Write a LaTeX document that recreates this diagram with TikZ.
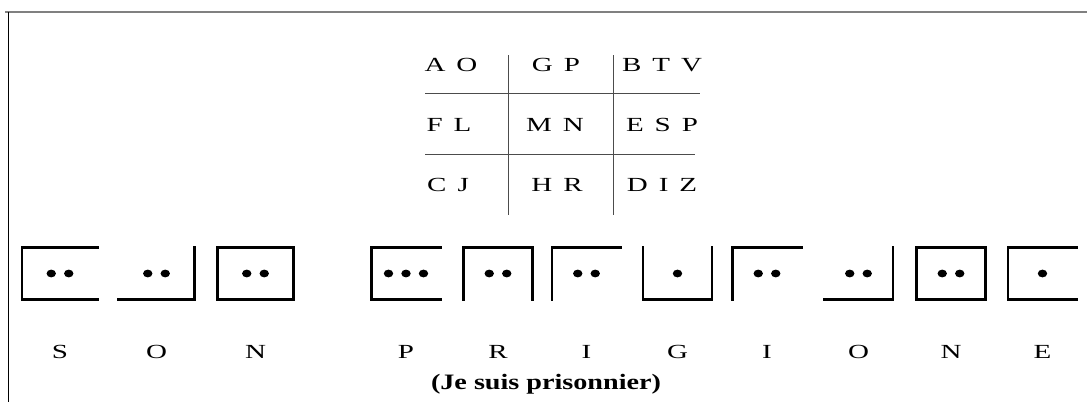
\documentclass[tikz,border=0pt]{standalone}
\usepackage{fontspec}
\setmainfont{Liberation Serif}[FakeStretch=1.45]
\newfontfamily\glossfont{Liberation Serif}[FakeStretch=1.28]
\usetikzlibrary{positioning}
\newcommand{\cg}{\hspace{11pt}}

\begin{document}
\begin{tikzpicture}[x=1pt,y=-1pt,
  every node/.style={inner sep=0pt,outer sep=0pt,font=\fontsize{20}{20}\selectfont},
  glyph/.style={minimum width=69pt,minimum height=52pt},
  wide/.style={minimum width=76pt},
  side/.style={line width=2.4pt,line cap=rect},
  rule/.style={line width=0.9pt,black!70}]

  \useasboundingbox (0,0) rectangle (1087,402);

  % Page frame
  \draw[line width=1.6pt,gray] (5,12) -- (1087,12);
  \draw[line width=1.3pt] (8.5,12) -- (8.5,402);

  % Key grid
  \draw[rule] (508,55) -- (508,215);
  \draw[rule] (613,55) -- (613,215);
  \draw[rule] (425,93) -- (700,93);
  \draw[rule] (425,154) -- (695,154);
  \node (ao)  at (451,65)  {A\cg O};
  \node (gp)  at (556,65)  {G\cg P};
  \node (btv) at (662,65)  {B\cg T\cg V};
  \node (fl)  at (449,125) {F\cg L};
  \node (mn)  at (555,125) {M\cg N};
  \node (esp) at (662,125) {E\cg S\cg P};
  \node (cj)  at (448,185) {C\cg J};
  \node (hr)  at (557,185) {H\cg R};
  \node (diz) at (662,185) {D\cg I\cg Z};

  % Cipher glyphs
  \node[glyph,wide] (c1)  at (60,273.5)    {};
  \node[glyph,wide] (c2)  at (156.5,273.5) {};
  \node[glyph,wide] (c3)  at (255.5,273.5) {};
  \node[glyph] (c4)  at (406,273.5)    {};
  \node[glyph] (c5)  at (498,273.5)    {};
  \node[glyph] (c6)  at (586.5,273.5)  {};
  \node[glyph] (c7)  at (677.5,273.5)  {};
  \node[glyph] (c8)  at (767,273.5)    {};
  \node[glyph] (c9)  at (858.5,273.5)  {};
  \node[glyph] (c10) at (951,273.5)    {};
  \node[glyph] (c11) at (1042.5,273.5) {};

  \draw[side] (c1.north east) -- (c1.north west) -- (c1.south west) -- (c1.south east);
  \draw[side] (c2.south west) -- (c2.south east) -- (c2.north east);
  \draw[side] (c3.north west) rectangle (c3.south east);
  \draw[side] (c4.north east) -- (c4.north west) -- (c4.south west) -- (c4.south east);
  \draw[side] (c5.south west) -- (c5.north west) -- (c5.north east) -- (c5.south east);
  \draw[side] (c6.north east) -- (c6.north west) -- (c6.south west);
  \draw[side] (c7.north west) -- (c7.south west) -- (c7.south east) -- (c7.north east);
  \draw[side] (c8.north east) -- (c8.north west) -- (c8.south west);
  \draw[side] (c9.south west) -- (c9.south east) -- (c9.north east);
  \draw[side] (c10.north west) rectangle (c10.south east);
  \draw[side] (c11.north east) -- (c11.north west) -- (c11.south west) -- (c11.south east);

  % Dots
  \foreach \g/\k in {c1/2,c2/2,c3/2,c4/3,c5/2,c6/2,c7/1,c8/2,c9/2,c10/2,c11/1}
    \foreach \i in {1,...,\k}
      \fill (\g) ++({(\i-(\k+1)/2)*17.5},0) ellipse[x radius=4.7,y radius=3.9];

  % Plain text
  \coordinate (lrow) at (0,352);
  \node (t1)  at (c1 |- lrow)  {S};
  \node (t2)  at (c2 |- lrow)  {O};
  \node (t3)  at (c3 |- lrow)  {N};
  \node (t4)  at (c4 |- lrow)  {P};
  \node (t5)  at (c5 |- lrow)  {R};
  \node (t6)  at (c6 |- lrow)  {I};
  \node (t7)  at (c7 |- lrow)  {G};
  \node (t8)  at (c8 |- lrow)  {I};
  \node (t9)  at (c9 |- lrow)  {O};
  \node (t10) at (c10 |- lrow) {N};
  \node (t11) at (c11 |- lrow) {E};
  \node[font=\glossfont\fontsize{22}{22}\selectfont\bfseries] (gloss) at (546,384) {(Je suis prisonnier)};
\end{tikzpicture}
\end{document}
